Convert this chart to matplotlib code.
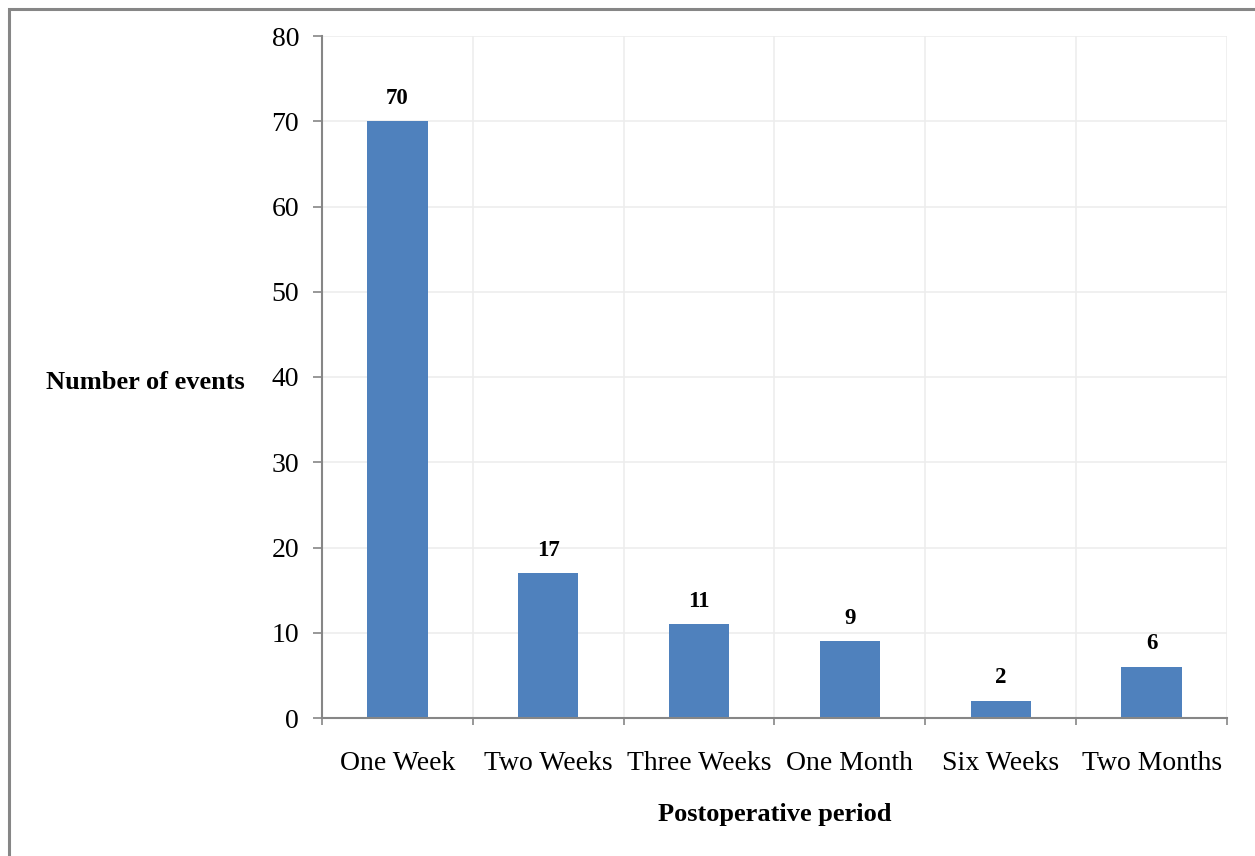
import matplotlib
matplotlib.use("Agg")
import matplotlib.pyplot as plt
from matplotlib.patches import Rectangle
import numpy as np

periods = ["One Week", "Two Weeks", "Three Weeks", "One Month", "Six Weeks", "Two Months"]
events = [70, 17, 11, 9, 2, 6]
y_ticks = [0, 10, 20, 30, 40, 50, 60, 70, 80]

plt.rcParams["font.family"] = ["Liberation Serif", "DejaVu Serif"]

W, H = 1255, 856
fig = plt.figure(figsize=(W / 100, H / 100), dpi=100)
fig.patch.set_facecolor("white")

ax = fig.add_axes([322 / W, 1 - 718 / H, (1227 - 322) / W, (718 - 36) / H])

bar_color = "#4F81BD"
spine_color = "#868686"
grid_color = "#EDEDED"

x = np.arange(len(periods))
ax.bar(x, events, width=0.4, color=bar_color, zorder=3)

for xi, v in zip(x, events):
    ax.annotate(str(v), (xi, v), xytext=(0, 9), textcoords="offset points",
                ha="center", va="bottom", fontsize=16.5, fontweight="bold", color="black")

ax.set_xlim(-0.5, len(periods) - 0.5)
ax.set_ylim(0, 80)
ax.set_yticks(y_ticks)
ax.set_xticks(x)
ax.set_xticklabels(periods)
ax.set_xticks(np.arange(-0.5, len(periods), 1.0), minor=True)

ax.tick_params(axis="y", which="major", direction="out", length=6.5, width=1.2,
               color=spine_color, labelsize=20, pad=10)
ax.tick_params(axis="x", which="major", length=0, labelsize=20, pad=24)
ax.tick_params(axis="x", which="minor", direction="out", length=5, width=1.2,
               color=spine_color)

ax.grid(True, axis="y", which="major", color=grid_color, lw=1.2, zorder=0)
ax.grid(True, axis="x", which="minor", color=grid_color, lw=1.2, zorder=0)
ax.grid(False, axis="x", which="major")
ax.set_axisbelow(True)

for side in ("top", "right"):
    ax.spines[side].set_visible(False)
for side in ("left", "bottom"):
    ax.spines[side].set_color(spine_color)
    ax.spines[side].set_linewidth(1.5)
    ax.spines[side].set_zorder(4)

ax.set_xlabel("Postoperative period", fontsize=19, fontweight="bold", labelpad=19)
ax.set_ylabel("Number of events", fontsize=19, fontweight="bold", rotation=0,
              ha="right", va="center")
ax.yaxis.set_label_coords(-0.085, 0.492)

# outer frame of the chart area
fig.patches.append(Rectangle((8.5 / W, -0.1), 1.2, (H - 8.5) / H + 0.1,
                             transform=fig.transFigure, fill=False,
                             edgecolor=spine_color, lw=2.2))

fig.savefig("out.png", dpi=100, facecolor="white")
